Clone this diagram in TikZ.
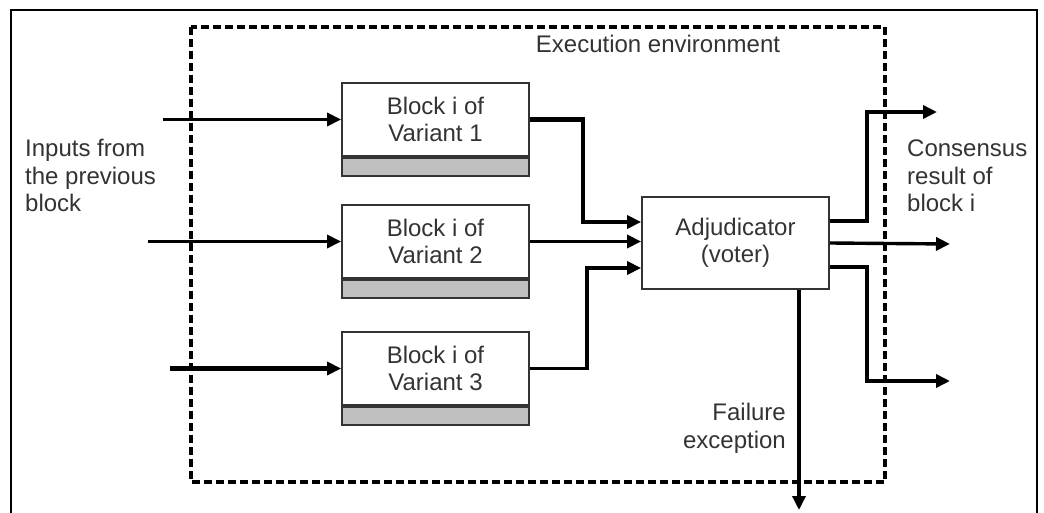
\documentclass[tikz,border=0pt]{standalone}
\usepackage{fontspec}
\setmainfont{Liberation Sans}
\usetikzlibrary{arrows.meta}

\definecolor{txtgray}{HTML}{333333}
\definecolor{stripgray}{HTML}{C0C0C0}

\tikzset{
	txt/.style={font=\fontsize{24}{27.5}\selectfont, text=txtgray, inner sep=0pt},
	variant/.style={draw=txtgray, line width=1.8pt, minimum width=187pt, minimum height=73pt, inner sep=0pt, align=center, txt},
	strip/.style={draw=txtgray, fill=stripgray, line width=1.8pt, minimum width=187pt, minimum height=18pt, inner sep=0pt},
	conn/.style={line width=3.4pt, -{Triangle[length=14pt,width=13pt]}},
	thickconn/.style={line width=4.6pt, -{Triangle[length=14pt,width=13pt]}},
}

\begin{document}
\begin{tikzpicture}[x=1pt, y=-1pt]
		
		\useasboundingbox (0,0) rectangle (1044,513);
		\draw[line width=1.4pt] (11,513) -- (11,10) -- (1037,10) -- (1037,513);
		
		% execution environment
		\draw[line width=3.2pt, dash pattern=on 8pt off 4pt] (191,27) rectangle (885,482);
		\node[txt, anchor=base] (env) at (658,53) {Execution environment};
		
		\node[variant] (v1) at (435.5,119.5) {Block i of\\Variant 1};
		\node[strip, anchor=north] (v1g) at (v1.south) {};
		\node[variant] (v2) at (435.5,241.5) {Block i of\\Variant 2};
		\node[strip, anchor=north] (v2g) at (v2.south) {};
		\node[variant] (v3) at (435.5,368.5) {Block i of\\Variant 3};
		\node[strip, anchor=north] (v3g) at (v3.south) {};
		
		\node[draw=txtgray, line width=1.8pt, minimum width=187pt, minimum height=92pt, inner sep=0pt, align=center, txt] (adj) at (735.5,243) {Adjudicator\\(voter)};
		
		% multi-line labels: base is the last line
		\node[txt, anchor=base west, align=left] (inputs) at (25,212) {Inputs from\\the previous\\block};
		\node[txt, anchor=base west, align=left] (result) at (907,212) {Consensus\\result of\\block i};
		\node[txt, anchor=base east, align=right] (failure) at (786,448) {Failure\\exception};
		
		\coordinate (in1) at (163,119.5);
		\coordinate (in2) at (148,241.5);
		\coordinate (in3) at (170,368.5);
		\coordinate (out1) at (937,112);
		\coordinate (out2) at (950,244);
		\coordinate (out3) at (950,381);
		\coordinate (fail) at (799,510);
		
		\draw[conn] (in1) -- (v1);
		\draw[conn] (in2) -- (v2);
		\draw[thickconn] (in3) -- (v3);
		
		\draw[thickconn] (v1.east) -- ++(53,0) |- ([yshift=21pt]adj.west);
		\draw[conn] (v2.east) -- (v2.east -| adj.west);
		\draw[conn] (v3.east) -- ++(57,0) |- ([yshift=-25pt]adj.west);
		
		\draw[conn] ([yshift=22pt]adj.east) -- ++(37,0) |- (out1);
		\draw[conn] (adj.east) -- (out2);
		\draw[thickconn] ([yshift=-24pt]adj.east) -- ++(37,0) |- (out3);
		\draw[conn] (adj.south -| fail) -- (fail);
		
	\end{tikzpicture}
\end{document}
